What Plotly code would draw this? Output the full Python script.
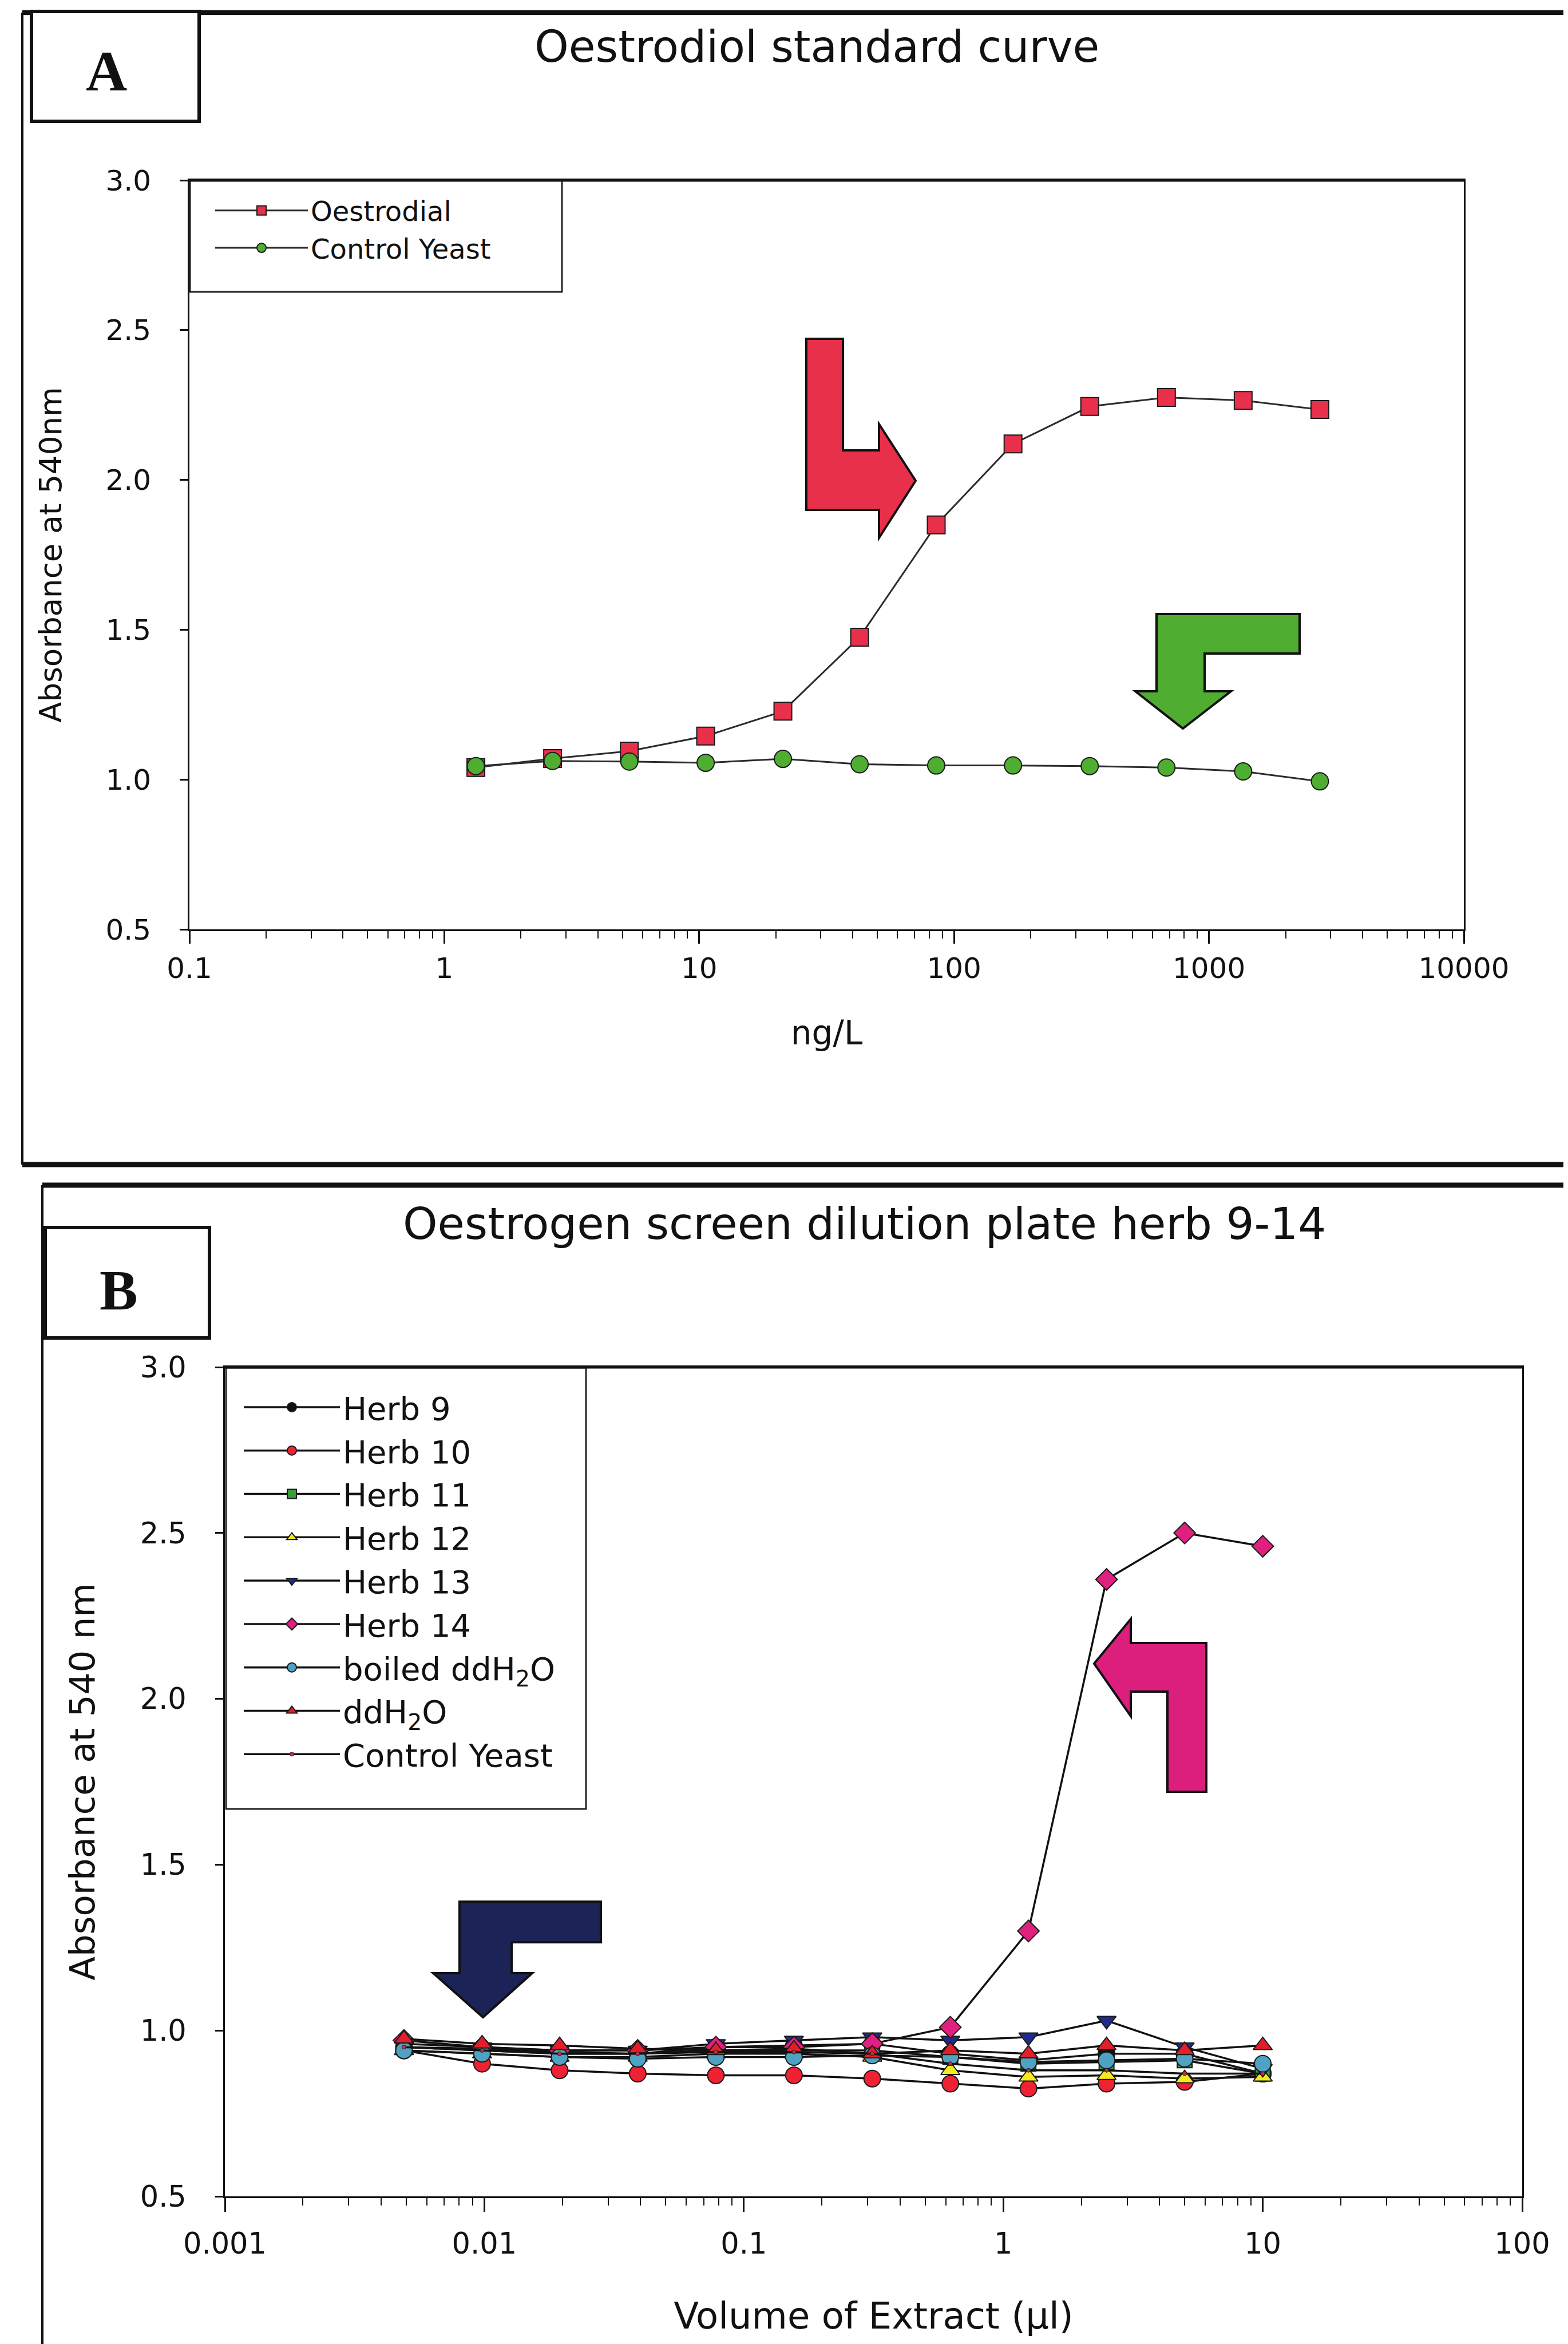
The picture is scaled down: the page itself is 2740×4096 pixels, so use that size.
import plotly.graph_objects as go

W, H = 2740, 4096
FONT = "DejaVu Sans"


def fx(x):
    return x / W


def fy(y):
    return 1 - y / H


# ---------------- Panel A data ----------------
conc_ngL = [1.33, 2.66, 5.32, 10.6, 21.3, 42.6, 85.1, 170.3, 340.5, 681, 1362, 2724]
oestrodial = [1.04, 1.07, 1.095, 1.145, 1.228, 1.475, 1.85, 2.12, 2.245, 2.275, 2.265, 2.235]
control_a = [1.045, 1.062, 1.06, 1.056, 1.069, 1.051, 1.047, 1.047, 1.045, 1.04, 1.027, 0.994]

a_xticks = [0.1, 1, 10, 100, 1000, 10000]
a_xticklabels = ["0.1", "1", "10", "100", "1000", "10000"]

# ---------------- Panel B data ----------------
volume_ul = [0.0049, 0.0098, 0.0195, 0.039, 0.078, 0.156, 0.3125, 0.625, 1.25, 2.5, 5, 10]
herb9 = [0.95, 0.945, 0.935, 0.93, 0.95, 0.955, 0.96, 0.93, 0.91, 0.93, 0.93, 0.87]
herb10 = [0.94, 0.90, 0.88, 0.87, 0.865, 0.865, 0.855, 0.84, 0.825, 0.84, 0.845, 0.87]
herb11 = [0.95, 0.94, 0.93, 0.93, 0.94, 0.94, 0.94, 0.92, 0.90, 0.905, 0.91, 0.87]
herb12 = [0.94, 0.93, 0.92, 0.92, 0.93, 0.93, 0.92, 0.88, 0.86, 0.865, 0.855, 0.86]
herb13 = [0.96, 0.95, 0.94, 0.94, 0.96, 0.97, 0.98, 0.97, 0.98, 1.03, 0.95, 0.885]
herb14 = [0.97, 0.95, 0.94, 0.94, 0.95, 0.95, 0.96, 1.01, 1.30, 2.36, 2.50, 2.46]
boiled_ddh2o = [0.94, 0.93, 0.92, 0.915, 0.92, 0.92, 0.925, 0.92, 0.905, 0.91, 0.915, 0.90]
ddh2o = [0.975, 0.96, 0.955, 0.945, 0.94, 0.945, 0.93, 0.94, 0.93, 0.955, 0.94, 0.955]
control_b = [0.95, 0.94, 0.93, 0.93, 0.935, 0.935, 0.93, 0.90, 0.88, 0.88, 0.87, 0.87]

b_xticks = [0.001, 0.01, 0.1, 1, 10, 100]
b_xticklabels = ["0.001", "0.01", "0.1", "1", "10", "100"]

y_ticks = [0.5, 1.0, 1.5, 2.0, 2.5, 3.0]
y_ticklabels = ["0.5", "1.0", "1.5", "2.0", "2.5", "3.0"]

LINE = "#2b2b2b"
OUT = "#1a1a1a"

fig = go.Figure()

# Panel A traces
fig.add_trace(go.Scatter(
    x=conc_ngL, y=oestrodial, name="Oestrodial", mode="lines+markers",
    line=dict(color=LINE, width=3),
    marker=dict(symbol="square", size=31, color="#E8304A", line=dict(color=OUT, width=2)),
    xaxis="x", yaxis="y", legend="legend"))
fig.add_trace(go.Scatter(
    x=conc_ngL, y=control_a, name="Control Yeast", mode="lines+markers",
    line=dict(color=LINE, width=3),
    marker=dict(symbol="circle", size=30, color="#4FAE32", line=dict(color=OUT, width=2)),
    xaxis="x", yaxis="y", legend="legend"))

# Panel B traces
b_series = [
    ("Herb 9", herb9, "circle", "#111111", 29),
    ("Herb 10", herb10, "circle", "#EE2233", 29),
    ("Herb 11", herb11, "square", "#3D9A3D", 26),
    ("Herb 12", herb12, "triangle-up", "#F5EB1A", 29),
    ("Herb 13", herb13, "triangle-down", "#1F2A8A", 29),
    ("Herb 14", herb14, "diamond", "#E0207F", 29),
    ("boiled ddH<sub>2</sub>O", boiled_ddh2o, "circle", "#4FA3C2", 29),
    ("ddH<sub>2</sub>O", ddh2o, "triangle-up", "#E31E2B", 29),
    ("Control Yeast", control_b, "circle", "#C0304A", 7),
]
for name, vals, sym, col, sz in b_series:
    fig.add_trace(go.Scatter(
        x=volume_ul, y=vals, name=name, mode="lines+markers",
        line=dict(color="#111111", width=3.5),
        marker=dict(symbol=sym, size=sz, color=col, line=dict(color=OUT, width=2 if sz > 10 else 1)),
        xaxis="x2", yaxis="y2", legend="legend2"))

tickfont = dict(family=FONT, size=50, color="#111")
common = dict(showgrid=False, zeroline=False, showline=True, linecolor="#111", linewidth=3,
              mirror=True, ticks="outside", tickcolor="#111", tickwidth=3, automargin=False)
minor = dict(ticks="outside", ticklen=13, tickwidth=2, tickcolor="#111", dtick="D1", showgrid=False)

fig.update_layout(
    width=W, height=H, autosize=False,
    margin=dict(l=0, r=0, t=0, b=0, pad=0, autoexpand=False),
    paper_bgcolor="white", plot_bgcolor="white",
    font=dict(family=FONT, color="#111"),
    xaxis=dict(domain=[fx(323), fx(2550)], type="log", range=[-1, 4], anchor="y",
               tickmode="array", tickvals=a_xticks, ticktext=a_xticklabels, ticklen=22,
               ticklabelstandoff=0, tickfont=tickfont, minor=minor,
               title=dict(text="ng/L", font=dict(family=FONT, size=58), standoff=65), **common),
    yaxis=dict(domain=[fy(1616), fy(307)], range=[0.5, 3.0], anchor="x",
               tickmode="array", tickvals=y_ticks, ticktext=y_ticklabels, ticklen=14,
               ticklabelstandoff=40, tickfont=tickfont,
               title=dict(text="Absorbance at 540nm", font=dict(family=FONT, size=53), standoff=60), **common),
    xaxis2=dict(domain=[fx(385), fx(2652)], type="log", range=[-3, 2], anchor="y2",
                tickmode="array", tickvals=b_xticks, ticktext=b_xticklabels, ticklen=24,
                ticklabelstandoff=12, tickfont=dict(family=FONT, size=51, color="#111"), minor=minor,
                title=dict(text="Volume of Extract (µl)", font=dict(family=FONT, size=64), standoff=75), **common),
    yaxis2=dict(domain=[fy(3830), fy(2381)], range=[0.5, 3.0], anchor="x2",
                tickmode="array", tickvals=y_ticks, ticktext=y_ticklabels, ticklen=14,
                ticklabelstandoff=40, tickfont=dict(family=FONT, size=51, color="#111"),
                title=dict(text="Absorbance at 540 nm", font=dict(family=FONT, size=61), standoff=60), **common),
    legend=dict(x=fx(363), y=fy(322), xanchor="left", yanchor="top", bgcolor="rgba(0,0,0,0)",
                borderwidth=0, font=dict(family=FONT, size=48, color="#111"), itemwidth=162,
                traceorder="normal"),
    legend2=dict(x=fx(413), y=fy(2408), xanchor="left", yanchor="top", bgcolor="rgba(0,0,0,0)",
                 borderwidth=0, font=dict(family=FONT, size=56, color="#111"), itemwidth=168,
                 traceorder="normal"),
    showlegend=True,
)


def path(points):
    s = "M " + " L ".join(f"{fx(x):.5f},{fy(y):.5f}" for x, y in points) + " Z"
    return s


shapes = []
# page frames
shapes.append(dict(type="line", xref="paper", yref="paper", x0=fx(31), x1=1.0, y0=fy(14), y1=fy(14),
                   line=dict(color="#111", width=8)))
shapes.append(dict(type="line", xref="paper", yref="paper", x0=fx(31), x1=fx(31), y0=fy(14), y1=fy(2027),
                   line=dict(color="#111", width=4)))
shapes.append(dict(type="line", xref="paper", yref="paper", x0=fx(31), x1=1.0, y0=fy(2027), y1=fy(2027),
                   line=dict(color="#111", width=9)))
shapes.append(dict(type="line", xref="paper", yref="paper", x0=fx(66), x1=1.0, y0=fy(2063), y1=fy(2063),
                   line=dict(color="#111", width=9)))
shapes.append(dict(type="line", xref="paper", yref="paper", x0=fx(66), x1=fx(66), y0=fy(2063), y1=0.0,
                   line=dict(color="#111", width=4)))
# plot-box top edges (drawn heavier in the original)
shapes.append(dict(type="line", xref="paper", yref="paper", x0=fx(323), x1=fx(2550), y0=fy(307), y1=fy(307),
                   line=dict(color="#111", width=5)))
shapes.append(dict(type="line", xref="paper", yref="paper", x0=fx(385), x1=fx(2652), y0=fy(2381), y1=fy(2381),
                   line=dict(color="#111", width=5)))
# label boxes
shapes.append(dict(type="rect", xref="paper", yref="paper", x0=fx(47), x1=fx(340), y0=fy(204), y1=fy(12),
                   line=dict(color="#111", width=6), fillcolor="white"))
shapes.append(dict(type="rect", xref="paper", yref="paper", x0=fx(71), x1=fx(358), y0=fy(2330), y1=fy(2137),
                   line=dict(color="#111", width=6), fillcolor="white"))
# legend boxes
shapes.append(dict(type="rect", xref="paper", yref="paper", x0=fx(324), x1=fx(974), y0=fy(502), y1=fy(306),
                   line=dict(color="#222", width=3), layer="below"))
shapes.append(dict(type="rect", xref="paper", yref="paper", x0=fx(387), x1=fx(1016), y0=fy(3153), y1=fy(2382),
                   line=dict(color="#222", width=3), layer="below"))
# arrows
arrows = [
    ("#E8304A", [(1401, 584), (1465, 584), (1465, 779), (1528, 779), (1528, 733), (1592, 832),
                 (1528, 932), (1528, 883), (1401, 883)]),
    ("#4FAE32", [(2013, 1065), (2263, 1065), (2263, 1134), (2097, 1134), (2097, 1200), (2143, 1200),
                 (2059, 1265), (1976, 1200), (2013, 1200)]),
    ("#DC1E7C", [(1904, 2899), (1968, 2821), (1968, 2863), (2100, 2863), (2100, 3123), (2032, 3123),
                 (2032, 2948), (1968, 2948), (1968, 2991)]),
    ("#1C2356", [(795, 3315), (1042, 3315), (1042, 3386), (886, 3386), (886, 3440), (922, 3440),
                 (836, 3517), (749, 3440), (795, 3440)]),
]
for col, pts in arrows:
    shapes.append(dict(type="path", xref="paper", yref="paper", path=path(pts), fillcolor=col,
                       line=dict(color="#111", width=4)))
fig.update_layout(shapes=shapes)

ann = []
ann.append(dict(text="Oestrodiol standard curve", x=fx(1419), y=fy(73), xref="paper", yref="paper",
                showarrow=False, xanchor="center", yanchor="middle",
                font=dict(family=FONT, size=76, color="#111")))
ann.append(dict(text="Oestrogen screen dilution plate herb 9-14", x=fx(1502), y=fy(2130), xref="paper",
                yref="paper", showarrow=False, xanchor="center", yanchor="middle",
                font=dict(family=FONT, size=77, color="#111")))
ann.append(dict(text="<b>A</b>", x=fx(178), y=fy(116), xref="paper", yref="paper", showarrow=False,
                xanchor="center", yanchor="middle", font=dict(family="Liberation Serif", size=100, color="#111")))
ann.append(dict(text="<b>B</b>", x=fx(200), y=fy(2246), xref="paper", yref="paper", showarrow=False,
                xanchor="center", yanchor="middle", font=dict(family="Liberation Serif", size=100, color="#111")))
fig.update_layout(annotations=ann)

fig.write_html("out.html")
